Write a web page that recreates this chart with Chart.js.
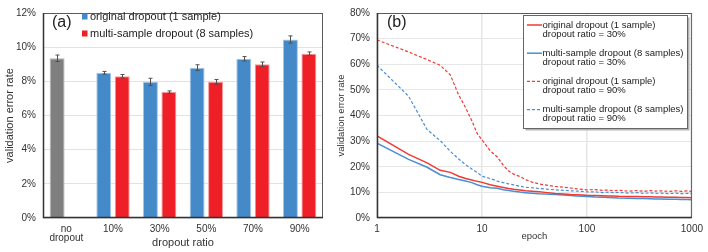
<!DOCTYPE html>
<html>
<head>
<meta charset="utf-8">
<script src="https://cdn.jsdelivr.net/npm/chart.js@4.4.0/dist/chart.umd.min.js"></script>
<style>
  html, body { margin: 0; padding: 0; background: #fff; }
  #wrap { position: relative; width: 708px; height: 252px; }
  #chartA { position: absolute; left: 0; top: 0; }
  #chartB { position: absolute; left: 330px; top: 0; }
</style>
</head>
<body>
<div id="wrap">
  <canvas id="chartA" width="330" height="252"></canvas>
  <canvas id="chartB" width="378" height="252"></canvas>
</div>
<script>
// ---- (a) bar chart data ----
const categories   = [['no', 'dropout'], '10%', '30%', '50%', '70%', '90%'];
const originalRate = [9.35, 8.5, 7.97, 8.8, 9.32, 10.45];
const originalErr  = [0.19, 0.08, 0.21, 0.17, 0.13, 0.21];
const multiRate    = [null, 8.3, 7.37, 7.97, 9.0, 9.62];
const multiErr     = [null, 0.1, 0.07, 0.14, 0.13, 0.1];
const rateTicks    = [0, 2, 4, 6, 8, 10, 12];

// ---- (b) learning curves data ----
const epochs  = [1, 2, 3, 4, 5, 6, 7, 8, 9, 10, 12, 14, 16, 18, 20, 23, 26, 30, 35, 40, 50, 60, 70, 80, 90,
                 100, 120, 140, 160, 180, 200, 250, 300, 350, 400, 450, 500, 600, 700, 800, 900, 1000];
const orig30  = [32, 24.8, 21.5, 18.6, 17.8, 16.3, 15.4, 14.8, 14.3, 13.9, 13.0, 12.4, 11.9, 11.5, 11.2, 10.9, 10.6, 10.4, 10.2, 10.0, 9.6, 9.4, 9.2, 9.1, 9.0,
                 8.9, 8.8, 8.7, 8.6, 8.6, 8.5, 8.4, 8.4, 8.3, 8.3, 8.2, 8.2, 8.1, 8.1, 8.0, 8.0, 7.9];
const multi30 = [29.2, 22.9, 19.8, 16.9, 15.8, 15.0, 14.4, 13.8, 13.0, 12.4, 11.8, 11.6, 11.0, 10.7, 10.4, 10.1, 9.9, 9.7, 9.5, 9.4, 9.2, 9.0, 8.8, 8.6, 8.5,
                 8.4, 8.2, 8.1, 8.0, 7.9, 7.8, 7.7, 7.6, 7.6, 7.5, 7.4, 7.4, 7.3, 7.3, 7.2, 7.2, 7.1];
const orig90  = [69.5, 64.8, 61.8, 59.6, 55.8, 48, 43, 38, 33, 30.5, 26.2, 23.8, 20.5, 18.3, 17.1, 16.2, 15.0, 14.0, 13.3, 12.9, 12.3, 12.0, 11.7, 11.4, 11.2,
                 11.0, 11.1, 10.8, 10.9, 10.6, 10.8, 10.5, 10.7, 10.4, 10.7, 10.5, 10.6, 10.4, 10.6, 10.4, 10.6, 10.4];
const multi90 = [59.6, 47.5, 34.5, 30.2, 26.0, 23.0, 20.8, 19.1, 17.8, 16.3, 15.4, 14.4, 13.8, 13.3, 12.9, 12.4, 12.0, 11.8, 11.5, 11.3, 11.0, 10.8, 10.6, 10.5, 10.4,
                 10.2, 10.2, 9.9, 10.1, 9.9, 10.0, 9.7, 9.9, 9.6, 9.8, 9.6, 9.7, 9.5, 9.7, 9.5, 9.6, 9.5];
const epochTicks = [1, 10, 100, 1000];
const errorTicks = [0, 10, 20, 30, 40, 50, 60, 70, 80];

const legendB = [
  ['original dropout (1 sample)', 'dropout ratio = 30%'],
  ['multi-sample dropout (8 samples)', 'dropout ratio = 30%'],
  ['original dropout (1 sample)', 'dropout ratio = 90%'],
  ['multi-sample dropout (8 samples)', 'dropout ratio = 90%']
];

const BLUE = '#4489C8', RED = '#EE1F26', GRAY = '#7F7F7F';
const LBLUE = '#4A8ED3', LRED = '#EE3B33';
const FONT = "'Liberation Sans', Arial, Helvetica, sans-serif";
Chart.defaults.font.family = FONT;
Chart.defaults.color = '#333';
Chart.defaults.animation = false;

function pct(v) { return v + '%'; }

function drawFrame(chart) {
  const { ctx, chartArea: a } = chart;
  ctx.save();
  ctx.strokeStyle = '#5a5a5a';
  ctx.lineWidth = 1;
  ctx.strokeRect(a.left + 0.5, a.top + 0.5, a.right - a.left - 1, a.bottom - a.top - 1);
  ctx.strokeStyle = '#333';
  ctx.lineWidth = 1.5;
  ctx.beginPath();
  ctx.moveTo(a.left + 0.5, a.top);
  ctx.lineTo(a.left + 0.5, a.bottom - 0.5);
  ctx.lineTo(a.right, a.bottom - 0.5);
  ctx.stroke();
  ctx.restore();
}

// ---- (a) ----
const errorBars = {
  id: 'errorBars',
  afterDatasetsDraw(chart) {
    const { ctx, scales: { y } } = chart;
    const errs = [originalErr, multiErr];
    ctx.save();
    ctx.strokeStyle = '#505050';
    ctx.lineWidth = 1;
    chart.data.datasets.forEach((ds, i) => {
      chart.getDatasetMeta(i).data.forEach((bar, j) => {
        const v = ds.data[j], e = errs[i][j];
        if (v == null || e == null) return;
        const x = Math.round(bar.x) + 0.5;
        const y1 = y.getPixelForValue(v + e), y2 = y.getPixelForValue(v - e);
        ctx.beginPath();
        ctx.moveTo(x, y1); ctx.lineTo(x, y2);
        ctx.moveTo(x - 2, y1); ctx.lineTo(x + 2, y1);
        ctx.moveTo(x - 2, y2); ctx.lineTo(x + 2, y2);
        ctx.stroke();
      });
    });
    ctx.restore();
  },
  afterDraw(chart) {
    drawFrame(chart);
    const { ctx } = chart;
    ctx.save();
    ctx.fillStyle = '#222';
    ctx.textBaseline = 'middle';
    ctx.font = '16px ' + FONT;
    ctx.fillText('(a)', 52, 23);
    ctx.font = '11px ' + FONT;
    chart.data.datasets.forEach((ds, i) => {
      const yy = 16.5 + i * 17;
      ctx.fillStyle = ds.legendColor;
      ctx.fillRect(82, yy - 3, 5.5, 6);
      ctx.fillStyle = '#222';
      ctx.fillText(ds.label, 90, yy);
    });
    ctx.restore();
  }
};

new Chart(document.getElementById('chartA'), {
  type: 'bar',
  data: {
    labels: categories,
    datasets: [{
      label: 'original dropout (1 sample)',
      data: originalRate,
      backgroundColor: categories.map((c, i) => i === 0 ? GRAY : BLUE),
      borderColor: categories.map((c, i) => i === 0 ? '#b5b5b5' : '#a6c6e6'),
      borderWidth: 1,
      legendColor: BLUE
    }, {
      label: 'multi-sample dropout (8 samples)',
      data: multiRate,
      backgroundColor: RED,
      borderColor: '#f59a9c',
      borderWidth: 1,
      legendColor: RED
    }]
  },
  options: {
    responsive: false,
    layout: { padding: { top: 7, right: 7, left: 0, bottom: 0 } },
    categoryPercentage: 0.79,
    barPercentage: 0.81,
    plugins: { legend: { display: false }, tooltip: { enabled: false } },
    scales: {
      x: {
        grid: { display: false, drawTicks: false },
        border: { display: false },
        ticks: { font: { size: 10, lineHeight: 0.9 }, color: '#333', padding: 7, maxRotation: 0 },
        title: { display: true, text: 'dropout ratio', font: { size: 11 }, color: '#333', padding: { top: 0, bottom: 2 } },
        afterFit: s => { s.height = 34; }
      },
      y: {
        min: 0, max: 12,
        afterBuildTicks: s => { s.ticks = rateTicks.map(v => ({ value: v })); },
        grid: { color: '#e2e2e2', lineWidth: 1, drawTicks: false },
        border: { display: false },
        ticks: { callback: pct, font: { size: 10 }, color: '#333', padding: 7 },
        title: { display: true, text: 'validation error rate', font: { size: 11 }, color: '#333', padding: { top: 3, bottom: 0 } },
        afterFit: s => { s.width = 43; }
      }
    }
  },
  plugins: [errorBars]
});

// ---- (b) ----
const legendPlugin = {
  id: 'legendB',
  afterDraw(chart) {
    drawFrame(chart);
    const { ctx } = chart;
    ctx.save();
    ctx.fillStyle = '#222';
    ctx.textBaseline = 'middle';
    ctx.font = '16px ' + FONT;
    ctx.fillText('(b)', 387 - 330, 23);
    const bx = 193.5, by = 15.5, bw = 164, bh = 113;
    ctx.fillStyle = '#b3b3b3';
    ctx.fillRect(bx + 2, by + 2, bw, bh);
    ctx.fillStyle = '#fff';
    ctx.fillRect(bx, by, bw, bh);
    ctx.strokeStyle = '#666';
    ctx.lineWidth = 1;
    ctx.strokeRect(bx, by, bw, bh);
    ctx.font = '9.5px ' + FONT;
    chart.data.datasets.forEach((ds, i) => {
      const yy = 25 + i * 28.2;
      ctx.strokeStyle = ds.borderColor;
      ctx.lineWidth = ds.borderWidth;
      ctx.setLineDash(ds.borderDash || []);
      ctx.beginPath();
      ctx.moveTo(197, yy); ctx.lineTo(212, yy);
      ctx.stroke();
      ctx.setLineDash([]);
      ctx.fillStyle = '#222';
      legendB[i].forEach((t, k) => ctx.fillText(t, 212.5, yy + k * 9));
    });
    ctx.restore();
  }
};

function series(vals) { return epochs.map((e, i) => ({ x: e, y: vals[i] })); }

new Chart(document.getElementById('chartB'), {
  type: 'line',
  data: {
    datasets: [
      { label: legendB[0].join(' '), data: series(orig30), borderColor: LRED, borderWidth: 1.5 },
      { label: legendB[1].join(' '), data: series(multi30), borderColor: LBLUE, borderWidth: 1.5 },
      { label: legendB[2].join(' '), data: series(orig90), borderColor: LRED, borderWidth: 1.2, borderDash: [3, 2] },
      { label: legendB[3].join(' '), data: series(multi90), borderColor: LBLUE, borderWidth: 1.2, borderDash: [3, 2] }
    ]
  },
  options: {
    responsive: false,
    layout: { padding: { top: 5, right: 14, left: 0, bottom: 0 } },
    elements: { point: { radius: 0 }, line: { tension: 0 } },
    plugins: { legend: { display: false }, tooltip: { enabled: false } },
    scales: {
      x: {
        type: 'logarithmic',
        min: 1, max: 1000,
        afterBuildTicks: s => { s.ticks = epochTicks.map(v => ({ value: v })); },
        grid: { color: '#e6e6e6', lineWidth: 1.5, drawTicks: false },
        border: { display: false },
        ticks: { callback: v => String(v), font: { size: 10 }, color: '#333', padding: 5, maxRotation: 0, autoSkip: false },
        title: { display: true, text: 'epoch', font: { size: 9.5 }, color: '#333', padding: { top: 0, bottom: 10 } },
        afterFit: s => { s.height = 34; }
      },
      y: {
        min: 0, max: 80,
        afterBuildTicks: s => { s.ticks = errorTicks.map(v => ({ value: v })); },
        grid: { color: '#e6e6e6', lineWidth: 1, drawTicks: false },
        border: { display: false },
        ticks: { callback: pct, font: { size: 10 }, color: '#333', padding: 7 },
        title: { display: true, text: 'validation error rate', font: { size: 9.5 }, color: '#333', padding: { top: 6, bottom: 0 } },
        afterFit: s => { s.width = 47; }
      }
    }
  },
  plugins: [legendPlugin]
});
</script>
</body>
</html>
